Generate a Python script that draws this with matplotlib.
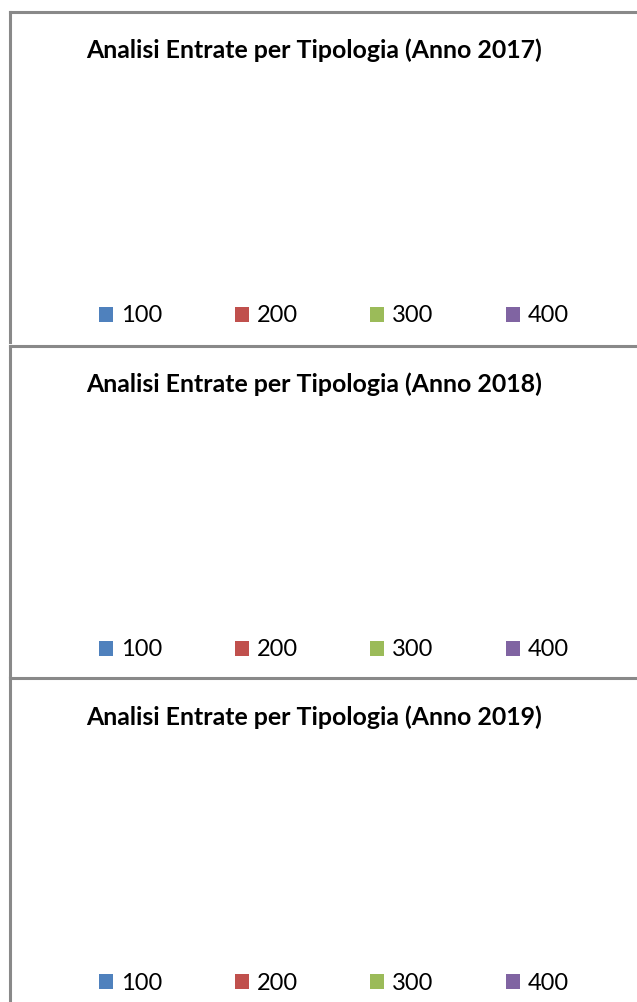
import matplotlib
matplotlib.use("Agg")
import matplotlib.pyplot as plt
from matplotlib.patches import Patch

# ---- data ----
years = ["2017", "2018", "2019"]
categories = ["100", "200", "300", "400"]
colors = ["#4F81BD", "#C0504D", "#9BBB59", "#8064A2"]
values_2017 = [0, 0, 0, 0]
values_2018 = [0, 0, 0, 0]
values_2019 = [0, 0, 0, 0]
series = [values_2017, values_2018, values_2019]
title_fmt = "Analisi Entrate per Tipologia (Anno {})"

W, H = 637, 1002
fig = plt.figure(figsize=(W / 100, H / 100), dpi=100)
fig.patch.set_facecolor("white")

def fx(x):
    return x / W

def fy(y):
    return 1 - y / H

tops = [11.5, 345.5, 678.5]
bottoms = [342, 676, 1012]
left, right = 9.5, 660
border = "#898989"

for i, (year, vals) in enumerate(zip(years, series)):
    t, b = tops[i], bottoms[i]
    ax = fig.add_axes([fx(left), fy(b), fx(right - left), fy(t) - fy(b)])
    ax.set_xticks([]); ax.set_yticks([])
    for s in ["bottom", "right"]:
        ax.spines[s].set_visible(False)
    for s in ["left", "top"]:
        ax.spines[s].set_color(border)
        ax.spines[s].set_linewidth(2.2)
    if sum(vals) > 0:
        pax = fig.add_axes([fx(160), fy(t + 280), fx(320), fy(t + 60) - fy(t + 280)])
        pax.pie(vals, colors=colors)
    fig.text(fx(314.5), fy(t + 46.5), title_fmt.format(year), ha="center",
             va="baseline", fontsize=17.9, fontweight="bold", family="Lato",
             color="black")
    handles = [Patch(facecolor=c, edgecolor="none") for c in colors]
    leg = fig.legend(handles, categories, ncol=4, loc="center left",
                     bbox_to_anchor=(fx(99), fy(t + 304.5)), frameon=False,
                     prop={"family": "Lato", "size": 17},
                     handlelength=0.59, handleheight=0.59, handletextpad=0.34,
                     columnspacing=3.07, borderpad=0, borderaxespad=0)

fig.savefig("out.png", dpi=100, facecolor="white")
